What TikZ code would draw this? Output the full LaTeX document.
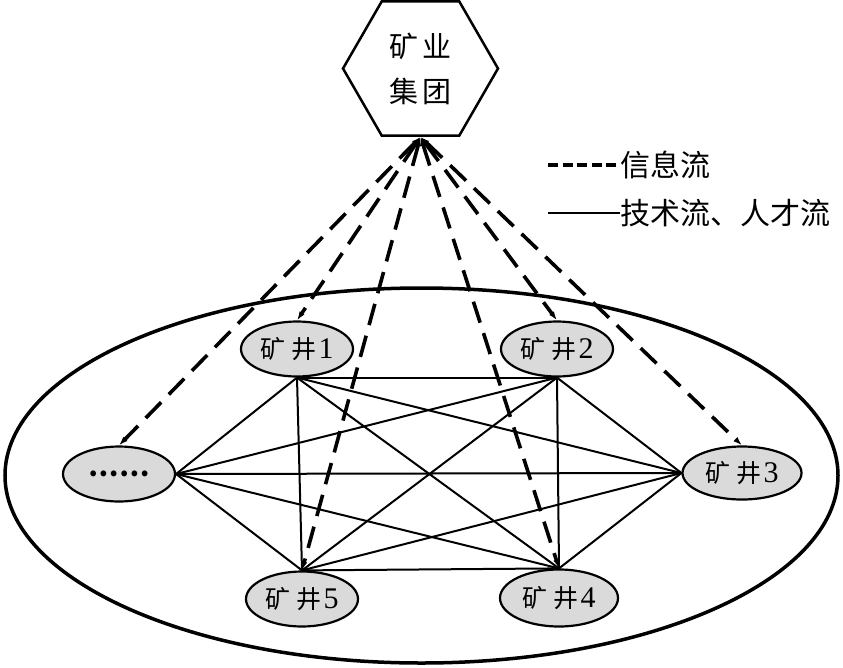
\documentclass[tikz,border=0pt]{standalone}
\usepackage{fontspec}
\setmainfont{Noto Sans CJK SC}
\newfontfamily\numfont{Liberation Serif}
\usetikzlibrary{shapes.geometric,arrows.meta}
\definecolor{nodegray}{RGB}{218,218,218}
\tikzset{
  mine/.style={ellipse, draw, fill=nodegray, line width=2.2pt, minimum width=112pt, minimum height=55pt, inner sep=0pt, font=\fontsize{25}{25}\selectfont},
  link/.style={line width=2pt},
  info/.style={line width=3.6pt, dash pattern=on 22pt off 11pt, {Latex[length=9pt,width=6pt]}-{Latex[length=9pt,width=6pt]}},
  legtext/.style={anchor=west, inner sep=0pt, font=\fontsize{30}{30}\selectfont}
}
\newcommand{\minelabel}[1]{矿\hspace{6pt}井\hspace{2pt}{\numfont\fontsize{30}{30}\selectfont #1}}
\begin{document}
\begin{tikzpicture}[x=1pt,y=-1pt]
\useasboundingbox (0,0) rectangle (843,667);
% outer field
\node[ellipse, draw, line width=3.5pt, minimum width=833pt, minimum height=375pt, inner sep=0pt] (field) at (421.5,475.5) {};
% headquarters
\node[regular polygon, regular polygon sides=6, draw, line width=2.5pt, minimum size=155pt, inner sep=0pt, align=center, font=\fontsize{29}{45}\selectfont] (hq) at (420.5,68.5) {矿\hspace{5pt}业\\集\hspace{5pt}团};
% mines
\node[mine] (d)  at (119,474) {{\bfseries\fontsize{27}{27}\selectfont ……}};
\node[mine] (m1) at (297,349) {\minelabel{1}};
\node[mine] (m2) at (557,349) {\minelabel{2}};
\node[mine, minimum width=119pt, minimum height=53pt] (m3) at (742,473) {\minelabel{3}};
\node[mine, minimum width=118pt, minimum height=57pt] (m4) at (559,598) {\minelabel{4}};
\node[mine] (m5) at (302,599) {\minelabel{5}};
% technology / talent flows (complete graph)
\draw[link] (d.east) -- (m1.south);
\draw[link] (d.east) -- (m2.south);
\draw[link] (d.east) -- (m3.west);
\draw[link] (d.east) -- (m4.north);
\draw[link] (d.east) -- (m5.north);
\draw[link] (m1.south) -- (m2.south);
\draw[link] (m1.south) -- (m3.west);
\draw[link] (m1.south) -- (m4.north);
\draw[link] (m1.south) -- (m5.north);
\draw[link] (m2.south) -- (m3.west);
\draw[link] (m2.south) -- (m4.north);
\draw[link] (m2.south) -- (m5.north);
\draw[link] (m3.west) -- (m4.north);
\draw[link] (m3.west) -- (m5.north);
\draw[link] (m4.north) -- (m5.north);
% information flows
\draw[info] (hq.south) -- (d.north);
\draw[info] (hq.south) -- (m1.north);
\draw[info] (hq.south) -- (m2.north);
\draw[info] (hq.south) -- (m3.north);
\draw[info] (hq.south) -- (m4.north);
\draw[info] (hq.south) -- (m5.north);
% legend
\coordinate (la1) at (548,165);
\coordinate (la2) at (620,165);
\coordinate (lb1) at (548,213);
\coordinate (lb2) at (620,213);
\draw[line width=4pt, dash pattern=on 10pt off 4.5pt] (la1) -- (la2);
\draw[line width=2.2pt] (lb1) -- (lb2);
\node[legtext] (lta) at (la2) {信息流};
\node[legtext] (ltb) at (lb2) {技术流、人才流};
\end{tikzpicture}
\end{document}
